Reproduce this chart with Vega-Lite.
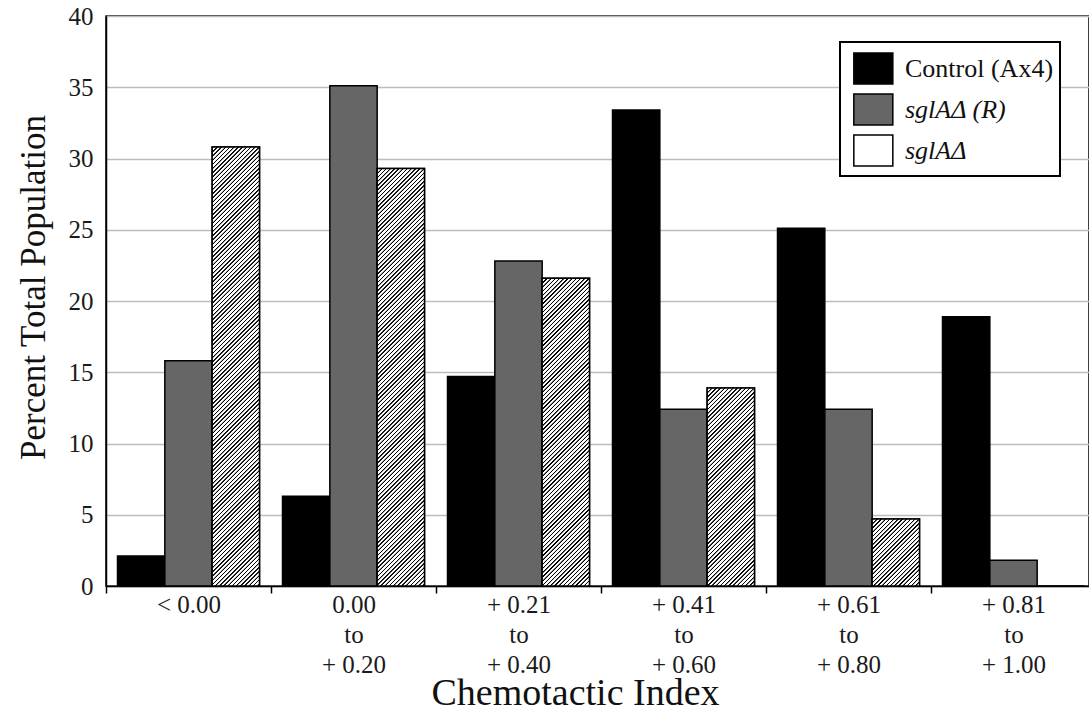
{
  "$schema": "https://vega.github.io/schema/vega-lite/v6.json",
  "width": 983,
  "height": 570,
  "autosize": {"type": "none"},
  "padding": {"left": 106, "top": 16, "right": 0, "bottom": 127},
  "background": "white",
  "config": {
    "font": "Liberation Serif",
    "view": {"stroke": "black", "strokeWidth": 1.5},
    "style": {"guide-label": {"font": "Liberation Serif"}, "guide-title": {"font": "Liberation Serif"}},
    "axis": {"labelFont": "Liberation Serif", "titleFont": "Liberation Serif", "titleFontWeight": "normal", "labelColor": "#1a1a1a", "titleColor": "#111111"},
    "legend": {"labelFont": "Liberation Serif"}
  },
  "params": [
    {"name": "hatchStops", "value": [
      {"offset":0,"color":"#fff"},{"offset":0.0008,"color":"#000"},{"offset":0.0028,"color":"#000"},{"offset":0.0036,"color":"#fff"},
      {"offset":0.008,"color":"#fff"},{"offset":0.0088,"color":"#000"},{"offset":0.0108,"color":"#000"},{"offset":0.0116,"color":"#fff"},
      {"offset":0.016,"color":"#fff"},{"offset":0.0168,"color":"#000"},{"offset":0.0188,"color":"#000"},{"offset":0.0196,"color":"#fff"},
      {"offset":0.024,"color":"#fff"},{"offset":0.0248,"color":"#000"},{"offset":0.0268,"color":"#000"},{"offset":0.0276,"color":"#fff"},
      {"offset":0.032,"color":"#fff"},{"offset":0.0328,"color":"#000"},{"offset":0.0348,"color":"#000"},{"offset":0.0356,"color":"#fff"},
      {"offset":0.04,"color":"#fff"},{"offset":0.0408,"color":"#000"},{"offset":0.0428,"color":"#000"},{"offset":0.0436,"color":"#fff"},
      {"offset":0.048,"color":"#fff"},{"offset":0.0488,"color":"#000"},{"offset":0.0508,"color":"#000"},{"offset":0.0516,"color":"#fff"},
      {"offset":0.056,"color":"#fff"},{"offset":0.0568,"color":"#000"},{"offset":0.0588,"color":"#000"},{"offset":0.0596,"color":"#fff"},
      {"offset":0.064,"color":"#fff"},{"offset":0.0648,"color":"#000"},{"offset":0.0668,"color":"#000"},{"offset":0.0676,"color":"#fff"},
      {"offset":0.072,"color":"#fff"},{"offset":0.0728,"color":"#000"},{"offset":0.0748,"color":"#000"},{"offset":0.0756,"color":"#fff"},
      {"offset":0.08,"color":"#fff"},{"offset":0.0808,"color":"#000"},{"offset":0.0828,"color":"#000"},{"offset":0.0836,"color":"#fff"},
      {"offset":0.088,"color":"#fff"},{"offset":0.0888,"color":"#000"},{"offset":0.0908,"color":"#000"},{"offset":0.0916,"color":"#fff"},
      {"offset":0.096,"color":"#fff"},{"offset":0.0968,"color":"#000"},{"offset":0.0988,"color":"#000"},{"offset":0.0996,"color":"#fff"},
      {"offset":0.104,"color":"#fff"},{"offset":0.1048,"color":"#000"},{"offset":0.1068,"color":"#000"},{"offset":0.1076,"color":"#fff"},
      {"offset":0.112,"color":"#fff"},{"offset":0.1128,"color":"#000"},{"offset":0.1148,"color":"#000"},{"offset":0.1156,"color":"#fff"},
      {"offset":0.12,"color":"#fff"},{"offset":0.1208,"color":"#000"},{"offset":0.1228,"color":"#000"},{"offset":0.1236,"color":"#fff"},
      {"offset":0.128,"color":"#fff"},{"offset":0.1288,"color":"#000"},{"offset":0.1308,"color":"#000"},{"offset":0.1316,"color":"#fff"},
      {"offset":0.136,"color":"#fff"},{"offset":0.1368,"color":"#000"},{"offset":0.1388,"color":"#000"},{"offset":0.1396,"color":"#fff"},
      {"offset":0.144,"color":"#fff"},{"offset":0.1448,"color":"#000"},{"offset":0.1468,"color":"#000"},{"offset":0.1476,"color":"#fff"},
      {"offset":0.152,"color":"#fff"},{"offset":0.1528,"color":"#000"},{"offset":0.1548,"color":"#000"},{"offset":0.1556,"color":"#fff"},
      {"offset":0.16,"color":"#fff"},{"offset":0.1608,"color":"#000"},{"offset":0.1628,"color":"#000"},{"offset":0.1636,"color":"#fff"},
      {"offset":0.168,"color":"#fff"},{"offset":0.1688,"color":"#000"},{"offset":0.1708,"color":"#000"},{"offset":0.1716,"color":"#fff"},
      {"offset":0.176,"color":"#fff"},{"offset":0.1768,"color":"#000"},{"offset":0.1788,"color":"#000"},{"offset":0.1796,"color":"#fff"},
      {"offset":0.184,"color":"#fff"},{"offset":0.1848,"color":"#000"},{"offset":0.1868,"color":"#000"},{"offset":0.1876,"color":"#fff"},
      {"offset":0.192,"color":"#fff"},{"offset":0.1928,"color":"#000"},{"offset":0.1948,"color":"#000"},{"offset":0.1956,"color":"#fff"},
      {"offset":0.2,"color":"#fff"},{"offset":0.2008,"color":"#000"},{"offset":0.2028,"color":"#000"},{"offset":0.2036,"color":"#fff"},
      {"offset":0.208,"color":"#fff"},{"offset":0.2088,"color":"#000"},{"offset":0.2108,"color":"#000"},{"offset":0.2116,"color":"#fff"},
      {"offset":0.216,"color":"#fff"},{"offset":0.2168,"color":"#000"},{"offset":0.2188,"color":"#000"},{"offset":0.2196,"color":"#fff"},
      {"offset":0.224,"color":"#fff"},{"offset":0.2248,"color":"#000"},{"offset":0.2268,"color":"#000"},{"offset":0.2276,"color":"#fff"},
      {"offset":0.232,"color":"#fff"},{"offset":0.2328,"color":"#000"},{"offset":0.2348,"color":"#000"},{"offset":0.2356,"color":"#fff"},
      {"offset":0.24,"color":"#fff"},{"offset":0.2408,"color":"#000"},{"offset":0.2428,"color":"#000"},{"offset":0.2436,"color":"#fff"},
      {"offset":0.248,"color":"#fff"},{"offset":0.2488,"color":"#000"},{"offset":0.2508,"color":"#000"},{"offset":0.2516,"color":"#fff"},
      {"offset":0.256,"color":"#fff"},{"offset":0.2568,"color":"#000"},{"offset":0.2588,"color":"#000"},{"offset":0.2596,"color":"#fff"},
      {"offset":0.264,"color":"#fff"},{"offset":0.2648,"color":"#000"},{"offset":0.2668,"color":"#000"},{"offset":0.2676,"color":"#fff"},
      {"offset":0.272,"color":"#fff"},{"offset":0.2728,"color":"#000"},{"offset":0.2748,"color":"#000"},{"offset":0.2756,"color":"#fff"},
      {"offset":0.28,"color":"#fff"},{"offset":0.2808,"color":"#000"},{"offset":0.2828,"color":"#000"},{"offset":0.2836,"color":"#fff"},
      {"offset":0.288,"color":"#fff"},{"offset":0.2888,"color":"#000"},{"offset":0.2908,"color":"#000"},{"offset":0.2916,"color":"#fff"},
      {"offset":0.296,"color":"#fff"},{"offset":0.2968,"color":"#000"},{"offset":0.2988,"color":"#000"},{"offset":0.2996,"color":"#fff"},
      {"offset":0.304,"color":"#fff"},{"offset":0.3048,"color":"#000"},{"offset":0.3068,"color":"#000"},{"offset":0.3076,"color":"#fff"},
      {"offset":0.312,"color":"#fff"},{"offset":0.3128,"color":"#000"},{"offset":0.3148,"color":"#000"},{"offset":0.3156,"color":"#fff"},
      {"offset":0.32,"color":"#fff"},{"offset":0.3208,"color":"#000"},{"offset":0.3228,"color":"#000"},{"offset":0.3236,"color":"#fff"},
      {"offset":0.328,"color":"#fff"},{"offset":0.3288,"color":"#000"},{"offset":0.3308,"color":"#000"},{"offset":0.3316,"color":"#fff"},
      {"offset":0.336,"color":"#fff"},{"offset":0.3368,"color":"#000"},{"offset":0.3388,"color":"#000"},{"offset":0.3396,"color":"#fff"},
      {"offset":0.344,"color":"#fff"},{"offset":0.3448,"color":"#000"},{"offset":0.3468,"color":"#000"},{"offset":0.3476,"color":"#fff"},
      {"offset":0.352,"color":"#fff"},{"offset":0.3528,"color":"#000"},{"offset":0.3548,"color":"#000"},{"offset":0.3556,"color":"#fff"},
      {"offset":0.36,"color":"#fff"},{"offset":0.3608,"color":"#000"},{"offset":0.3628,"color":"#000"},{"offset":0.3636,"color":"#fff"},
      {"offset":0.368,"color":"#fff"},{"offset":0.3688,"color":"#000"},{"offset":0.3708,"color":"#000"},{"offset":0.3716,"color":"#fff"},
      {"offset":0.376,"color":"#fff"},{"offset":0.3768,"color":"#000"},{"offset":0.3788,"color":"#000"},{"offset":0.3796,"color":"#fff"},
      {"offset":0.384,"color":"#fff"},{"offset":0.3848,"color":"#000"},{"offset":0.3868,"color":"#000"},{"offset":0.3876,"color":"#fff"},
      {"offset":0.392,"color":"#fff"},{"offset":0.3928,"color":"#000"},{"offset":0.3948,"color":"#000"},{"offset":0.3956,"color":"#fff"},
      {"offset":0.4,"color":"#fff"},{"offset":0.4008,"color":"#000"},{"offset":0.4028,"color":"#000"},{"offset":0.4036,"color":"#fff"},
      {"offset":0.408,"color":"#fff"},{"offset":0.4088,"color":"#000"},{"offset":0.4108,"color":"#000"},{"offset":0.4116,"color":"#fff"},
      {"offset":0.416,"color":"#fff"},{"offset":0.4168,"color":"#000"},{"offset":0.4188,"color":"#000"},{"offset":0.4196,"color":"#fff"},
      {"offset":0.424,"color":"#fff"},{"offset":0.4248,"color":"#000"},{"offset":0.4268,"color":"#000"},{"offset":0.4276,"color":"#fff"},
      {"offset":0.432,"color":"#fff"},{"offset":0.4328,"color":"#000"},{"offset":0.4348,"color":"#000"},{"offset":0.4356,"color":"#fff"},
      {"offset":0.44,"color":"#fff"},{"offset":0.4408,"color":"#000"},{"offset":0.4428,"color":"#000"},{"offset":0.4436,"color":"#fff"},
      {"offset":0.448,"color":"#fff"},{"offset":0.4488,"color":"#000"},{"offset":0.4508,"color":"#000"},{"offset":0.4516,"color":"#fff"},
      {"offset":0.456,"color":"#fff"},{"offset":0.4568,"color":"#000"},{"offset":0.4588,"color":"#000"},{"offset":0.4596,"color":"#fff"},
      {"offset":0.464,"color":"#fff"},{"offset":0.4648,"color":"#000"},{"offset":0.4668,"color":"#000"},{"offset":0.4676,"color":"#fff"},
      {"offset":0.472,"color":"#fff"},{"offset":0.4728,"color":"#000"},{"offset":0.4748,"color":"#000"},{"offset":0.4756,"color":"#fff"},
      {"offset":0.48,"color":"#fff"},{"offset":0.4808,"color":"#000"},{"offset":0.4828,"color":"#000"},{"offset":0.4836,"color":"#fff"},
      {"offset":0.488,"color":"#fff"},{"offset":0.4888,"color":"#000"},{"offset":0.4908,"color":"#000"},{"offset":0.4916,"color":"#fff"},
      {"offset":0.496,"color":"#fff"},{"offset":0.4968,"color":"#000"},{"offset":0.4988,"color":"#000"},{"offset":0.4996,"color":"#fff"},
      {"offset":0.504,"color":"#fff"},{"offset":0.5048,"color":"#000"},{"offset":0.5068,"color":"#000"},{"offset":0.5076,"color":"#fff"},
      {"offset":0.512,"color":"#fff"},{"offset":0.5128,"color":"#000"},{"offset":0.5148,"color":"#000"},{"offset":0.5156,"color":"#fff"},
      {"offset":0.52,"color":"#fff"},{"offset":0.5208,"color":"#000"},{"offset":0.5228,"color":"#000"},{"offset":0.5236,"color":"#fff"},
      {"offset":0.528,"color":"#fff"},{"offset":0.5288,"color":"#000"},{"offset":0.5308,"color":"#000"},{"offset":0.5316,"color":"#fff"},
      {"offset":0.536,"color":"#fff"},{"offset":0.5368,"color":"#000"},{"offset":0.5388,"color":"#000"},{"offset":0.5396,"color":"#fff"},
      {"offset":0.544,"color":"#fff"},{"offset":0.5448,"color":"#000"},{"offset":0.5468,"color":"#000"},{"offset":0.5476,"color":"#fff"},
      {"offset":0.552,"color":"#fff"},{"offset":0.5528,"color":"#000"},{"offset":0.5548,"color":"#000"},{"offset":0.5556,"color":"#fff"},
      {"offset":0.56,"color":"#fff"},{"offset":0.5608,"color":"#000"},{"offset":0.5628,"color":"#000"},{"offset":0.5636,"color":"#fff"},
      {"offset":0.568,"color":"#fff"},{"offset":0.5688,"color":"#000"},{"offset":0.5708,"color":"#000"},{"offset":0.5716,"color":"#fff"},
      {"offset":0.576,"color":"#fff"},{"offset":0.5768,"color":"#000"},{"offset":0.5788,"color":"#000"},{"offset":0.5796,"color":"#fff"},
      {"offset":0.584,"color":"#fff"},{"offset":0.5848,"color":"#000"},{"offset":0.5868,"color":"#000"},{"offset":0.5876,"color":"#fff"},
      {"offset":0.592,"color":"#fff"},{"offset":0.5928,"color":"#000"},{"offset":0.5948,"color":"#000"},{"offset":0.5956,"color":"#fff"},
      {"offset":0.6,"color":"#fff"},{"offset":0.6008,"color":"#000"},{"offset":0.6028,"color":"#000"},{"offset":0.6036,"color":"#fff"},
      {"offset":0.608,"color":"#fff"},{"offset":0.6088,"color":"#000"},{"offset":0.6108,"color":"#000"},{"offset":0.6116,"color":"#fff"},
      {"offset":0.616,"color":"#fff"},{"offset":0.6168,"color":"#000"},{"offset":0.6188,"color":"#000"},{"offset":0.6196,"color":"#fff"},
      {"offset":0.624,"color":"#fff"},{"offset":0.6248,"color":"#000"},{"offset":0.6268,"color":"#000"},{"offset":0.6276,"color":"#fff"},
      {"offset":0.632,"color":"#fff"},{"offset":0.6328,"color":"#000"},{"offset":0.6348,"color":"#000"},{"offset":0.6356,"color":"#fff"},
      {"offset":0.64,"color":"#fff"},{"offset":0.6408,"color":"#000"},{"offset":0.6428,"color":"#000"},{"offset":0.6436,"color":"#fff"},
      {"offset":0.648,"color":"#fff"},{"offset":0.6488,"color":"#000"},{"offset":0.6508,"color":"#000"},{"offset":0.6516,"color":"#fff"},
      {"offset":0.656,"color":"#fff"},{"offset":0.6568,"color":"#000"},{"offset":0.6588,"color":"#000"},{"offset":0.6596,"color":"#fff"},
      {"offset":0.664,"color":"#fff"},{"offset":0.6648,"color":"#000"},{"offset":0.6668,"color":"#000"},{"offset":0.6676,"color":"#fff"},
      {"offset":0.672,"color":"#fff"},{"offset":0.6728,"color":"#000"},{"offset":0.6748,"color":"#000"},{"offset":0.6756,"color":"#fff"},
      {"offset":0.68,"color":"#fff"},{"offset":0.6808,"color":"#000"},{"offset":0.6828,"color":"#000"},{"offset":0.6836,"color":"#fff"},
      {"offset":0.688,"color":"#fff"},{"offset":0.6888,"color":"#000"},{"offset":0.6908,"color":"#000"},{"offset":0.6916,"color":"#fff"},
      {"offset":0.696,"color":"#fff"},{"offset":0.6968,"color":"#000"},{"offset":0.6988,"color":"#000"},{"offset":0.6996,"color":"#fff"},
      {"offset":0.704,"color":"#fff"},{"offset":0.7048,"color":"#000"},{"offset":0.7068,"color":"#000"},{"offset":0.7076,"color":"#fff"},
      {"offset":0.712,"color":"#fff"},{"offset":0.7128,"color":"#000"},{"offset":0.7148,"color":"#000"},{"offset":0.7156,"color":"#fff"},
      {"offset":0.72,"color":"#fff"},{"offset":0.7208,"color":"#000"},{"offset":0.7228,"color":"#000"},{"offset":0.7236,"color":"#fff"},
      {"offset":0.728,"color":"#fff"},{"offset":0.7288,"color":"#000"},{"offset":0.7308,"color":"#000"},{"offset":0.7316,"color":"#fff"},
      {"offset":0.736,"color":"#fff"},{"offset":0.7368,"color":"#000"},{"offset":0.7388,"color":"#000"},{"offset":0.7396,"color":"#fff"},
      {"offset":0.744,"color":"#fff"},{"offset":0.7448,"color":"#000"},{"offset":0.7468,"color":"#000"},{"offset":0.7476,"color":"#fff"},
      {"offset":0.752,"color":"#fff"},{"offset":0.7528,"color":"#000"},{"offset":0.7548,"color":"#000"},{"offset":0.7556,"color":"#fff"},
      {"offset":0.76,"color":"#fff"},{"offset":0.7608,"color":"#000"},{"offset":0.7628,"color":"#000"},{"offset":0.7636,"color":"#fff"},
      {"offset":0.768,"color":"#fff"},{"offset":0.7688,"color":"#000"},{"offset":0.7708,"color":"#000"},{"offset":0.7716,"color":"#fff"},
      {"offset":0.776,"color":"#fff"},{"offset":0.7768,"color":"#000"},{"offset":0.7788,"color":"#000"},{"offset":0.7796,"color":"#fff"},
      {"offset":0.784,"color":"#fff"},{"offset":0.7848,"color":"#000"},{"offset":0.7868,"color":"#000"},{"offset":0.7876,"color":"#fff"},
      {"offset":0.792,"color":"#fff"},{"offset":0.7928,"color":"#000"},{"offset":0.7948,"color":"#000"},{"offset":0.7956,"color":"#fff"},
      {"offset":0.8,"color":"#fff"},{"offset":0.8008,"color":"#000"},{"offset":0.8028,"color":"#000"},{"offset":0.8036,"color":"#fff"},
      {"offset":0.808,"color":"#fff"},{"offset":0.8088,"color":"#000"},{"offset":0.8108,"color":"#000"},{"offset":0.8116,"color":"#fff"},
      {"offset":0.816,"color":"#fff"},{"offset":0.8168,"color":"#000"},{"offset":0.8188,"color":"#000"},{"offset":0.8196,"color":"#fff"},
      {"offset":0.824,"color":"#fff"},{"offset":0.8248,"color":"#000"},{"offset":0.8268,"color":"#000"},{"offset":0.8276,"color":"#fff"},
      {"offset":0.832,"color":"#fff"},{"offset":0.8328,"color":"#000"},{"offset":0.8348,"color":"#000"},{"offset":0.8356,"color":"#fff"},
      {"offset":0.84,"color":"#fff"},{"offset":0.8408,"color":"#000"},{"offset":0.8428,"color":"#000"},{"offset":0.8436,"color":"#fff"},
      {"offset":0.848,"color":"#fff"},{"offset":0.8488,"color":"#000"},{"offset":0.8508,"color":"#000"},{"offset":0.8516,"color":"#fff"},
      {"offset":0.856,"color":"#fff"},{"offset":0.8568,"color":"#000"},{"offset":0.8588,"color":"#000"},{"offset":0.8596,"color":"#fff"},
      {"offset":0.864,"color":"#fff"},{"offset":0.8648,"color":"#000"},{"offset":0.8668,"color":"#000"},{"offset":0.8676,"color":"#fff"},
      {"offset":0.872,"color":"#fff"},{"offset":0.8728,"color":"#000"},{"offset":0.8748,"color":"#000"},{"offset":0.8756,"color":"#fff"},
      {"offset":0.88,"color":"#fff"},{"offset":0.8808,"color":"#000"},{"offset":0.8828,"color":"#000"},{"offset":0.8836,"color":"#fff"},
      {"offset":0.888,"color":"#fff"},{"offset":0.8888,"color":"#000"},{"offset":0.8908,"color":"#000"},{"offset":0.8916,"color":"#fff"},
      {"offset":0.896,"color":"#fff"},{"offset":0.8968,"color":"#000"},{"offset":0.8988,"color":"#000"},{"offset":0.8996,"color":"#fff"},
      {"offset":0.904,"color":"#fff"},{"offset":0.9048,"color":"#000"},{"offset":0.9068,"color":"#000"},{"offset":0.9076,"color":"#fff"},
      {"offset":0.912,"color":"#fff"},{"offset":0.9128,"color":"#000"},{"offset":0.9148,"color":"#000"},{"offset":0.9156,"color":"#fff"},
      {"offset":0.92,"color":"#fff"},{"offset":0.9208,"color":"#000"},{"offset":0.9228,"color":"#000"},{"offset":0.9236,"color":"#fff"},
      {"offset":0.928,"color":"#fff"},{"offset":0.9288,"color":"#000"},{"offset":0.9308,"color":"#000"},{"offset":0.9316,"color":"#fff"},
      {"offset":0.936,"color":"#fff"},{"offset":0.9368,"color":"#000"},{"offset":0.9388,"color":"#000"},{"offset":0.9396,"color":"#fff"},
      {"offset":0.944,"color":"#fff"},{"offset":0.9448,"color":"#000"},{"offset":0.9468,"color":"#000"},{"offset":0.9476,"color":"#fff"},
      {"offset":0.952,"color":"#fff"},{"offset":0.9528,"color":"#000"},{"offset":0.9548,"color":"#000"},{"offset":0.9556,"color":"#fff"},
      {"offset":1,"color":"#fff"}
    ]}
  ],
  "data": {"values": [
    {"group": "< 0.00", "series": "Control (Ax4)", "value": 2.1},
    {"group": "< 0.00", "series": "sglAΔ (R)", "value": 15.8},
    {"group": "< 0.00", "series": "sglAΔ", "value": 30.8},
    {"group": "0.00 to + 0.20", "series": "Control (Ax4)", "value": 6.3},
    {"group": "0.00 to + 0.20", "series": "sglAΔ (R)", "value": 35.1},
    {"group": "0.00 to + 0.20", "series": "sglAΔ", "value": 29.3},
    {"group": "+ 0.21 to + 0.40", "series": "Control (Ax4)", "value": 14.7},
    {"group": "+ 0.21 to + 0.40", "series": "sglAΔ (R)", "value": 22.8},
    {"group": "+ 0.21 to + 0.40", "series": "sglAΔ", "value": 21.6},
    {"group": "+ 0.41 to + 0.60", "series": "Control (Ax4)", "value": 33.4},
    {"group": "+ 0.41 to + 0.60", "series": "sglAΔ (R)", "value": 12.4},
    {"group": "+ 0.41 to + 0.60", "series": "sglAΔ", "value": 13.9},
    {"group": "+ 0.61 to + 0.80", "series": "Control (Ax4)", "value": 25.1},
    {"group": "+ 0.61 to + 0.80", "series": "sglAΔ (R)", "value": 12.4},
    {"group": "+ 0.61 to + 0.80", "series": "sglAΔ", "value": 4.7},
    {"group": "+ 0.81 to + 1.00", "series": "Control (Ax4)", "value": 18.9},
    {"group": "+ 0.81 to + 1.00", "series": "sglAΔ (R)", "value": 1.8},
    {"group": "+ 0.81 to + 1.00", "series": "sglAΔ", "value": 0}
  ]},
  "encoding": {
    "x": {
      "field": "group", "type": "nominal",
      "sort": ["< 0.00", "0.00 to + 0.20", "+ 0.21 to + 0.40", "+ 0.41 to + 0.60", "+ 0.61 to + 0.80", "+ 0.81 to + 1.00"],
      "scale": {"range": [0, 990], "paddingInner": 0, "paddingOuter": 0},
      "axis": {
        "title": "Chemotactic Index", "titleFont": "Liberation Serif", "titleFontSize": 38, "titleX": 469, "titleY": 118, "titleBaseline": "alphabetic", "titleAlign": "center", "titleAnchor": null,
        "labelFont": "Liberation Serif", "labelAngle": 0, "labelFontSize": 25, "labelLineHeight": 30, "labelPadding": -1, "labelOverlap": false,
        "labelExpr": "datum.label === '< 0.00' ? '< 0.00\u00a0\u00a0\u00a0\u00a0' : split(replace(datum.label, ' to ', '|to|'), '|')",
        "tickBand": "extent", "tickSize": 7, "tickColor": "black", "tickWidth": 1.5,
        "domainColor": "black", "domainWidth": 1.5, "grid": false
      }
    },
    "xOffset": {"field": "series", "type": "nominal", "scale": {"domain": ["Control (Ax4)", "sglAΔ (R)", "sglAΔ"], "paddingInner": 0, "paddingOuter": 0.243}},
    "y": {
      "field": "value", "type": "quantitative",
      "scale": {"domain": [0, 40], "nice": false},
      "axis": {
        "title": "Percent Total Population", "titleFont": "Liberation Serif", "titleFontSize": 35, "titleX": -62, "titleY": 271, "titleBaseline": "alphabetic", "titleAlign": "center", "titleAngle": 270, "titleAnchor": null,
        "values": [0, 5, 10, 15, 20, 25, 30, 35, 40],
        "labelFont": "Liberation Serif", "labelFontSize": 25, "labelPadding": 13, "ticks": false,
        "grid": true, "gridColor": "#bcbcbc", "gridWidth": 1.5,
        "domainColor": "black", "domainWidth": 1.5
      }
    }
  },
  "layer": [
    {
      "mark": {"type": "bar", "stroke": "black", "strokeWidth": 1.5},
      "encoding": {
        "color": {
          "field": "series", "type": "nominal",
          "scale": {"domain": ["Control (Ax4)", "sglAΔ (R)", "sglAΔ"], "range": ["#000000", "#666666", "#ffffff"]},
          "legend": {
            "title": null, "orient": "none", "legendX": 734, "legendY": 26,
            "symbolType": "M-0.65,-0.8H1.35V0.8H-0.65Z", "symbolSize": 1521, "symbolStrokeColor": "black", "symbolStrokeWidth": 1.5,
            "labelFont": "Liberation Serif", "labelFontSize": 26, "labelColor": "#111111", "labelOffset": 18, "labelLimit": 300,
            "labelExpr": "datum.label === 'Control (Ax4)' ? 'Control (Ax4)\u00a0\u00a0\u00a0\u00a0' : datum.label",
            "rowPadding": 1, "padding": 6, "strokeColor": "black", "fillColor": "white",
            "encode": {
              "legend": {"update": {"strokeWidth": {"value": 2}}},
              "symbols": {"update": {
                "stroke": {"value": "black"},
                "strokeWidth": {"value": 1.5},
                "opacity": {"value": 1}
              }},
              "labels": {"update": {"font": {"value": "Liberation Serif"}, "fontStyle": {"signal": "datum.value === 'Control (Ax4)' ? 'normal' : 'italic'"}}}
            }
          }
        }
      }
    },
    {
      "transform": [{"filter": "datum.series === 'sglAΔ' && datum.value > 0"}],
      "mark": {
        "type": "bar", "stroke": "black", "strokeWidth": 1.5,
        "fill": {"expr": "{gradient: 'linear', x1: 0, y1: 0, x2: 525 * bandwidth('xOffset') / (pow(bandwidth('xOffset'), 2) + pow(scale('y', 0) - scale('y', datum.value), 2)), y2: 525 * (scale('y', 0) - scale('y', datum.value)) / (pow(bandwidth('xOffset'), 2) + pow(scale('y', 0) - scale('y', datum.value), 2)), stops: hatchStops}"}
      }
    }
  ]
}
